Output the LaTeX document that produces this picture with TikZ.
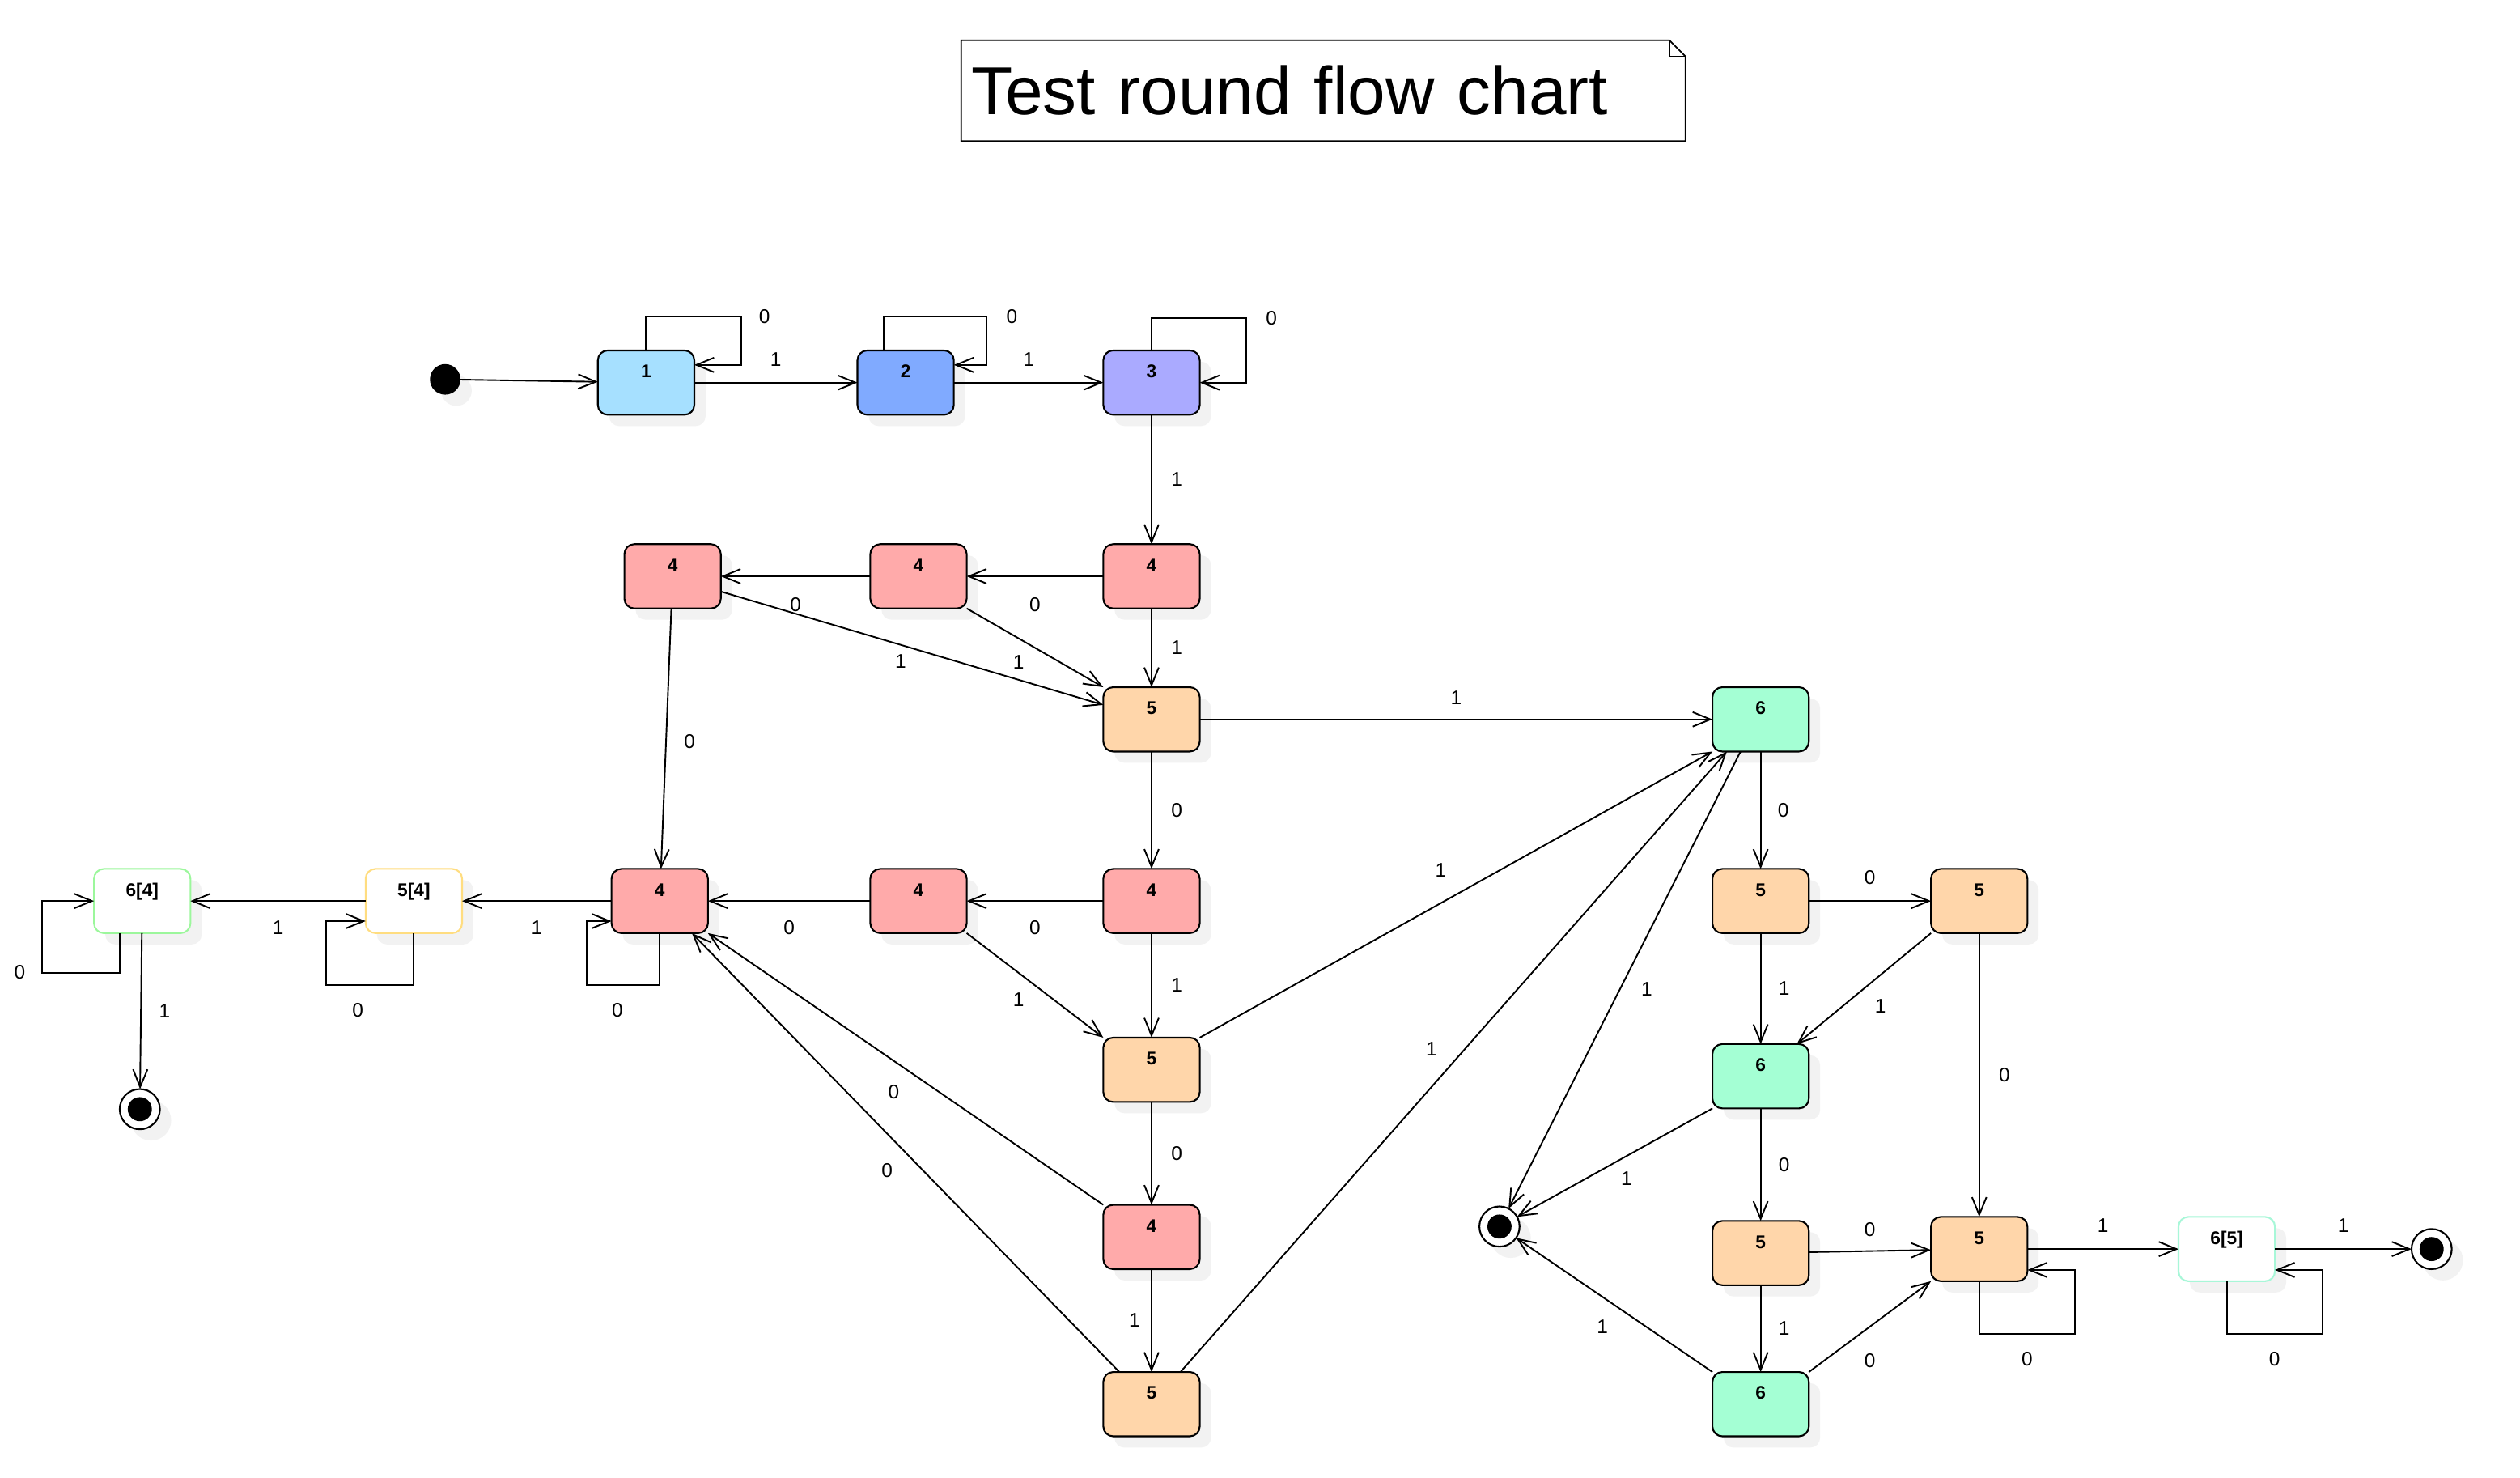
\documentclass[tikz,border=0pt]{standalone}
\usepackage{fontspec}
\setmainfont{Liberation Sans}
\usetikzlibrary{arrows.meta,positioning,shadows}
\definecolor{skyblue}{HTML}{A6E0FF}
\definecolor{cornflower}{HTML}{80AAFF}
\definecolor{periwinkle}{HTML}{AAAAFF}
\definecolor{salmonpink}{HTML}{FFAAAA}
\definecolor{peach}{HTML}{FFD6AA}
\definecolor{mint}{HTML}{A4FFD4}
\definecolor{limeedge}{HTML}{9CF79C}
\definecolor{goldedge}{HTML}{FFDD80}
\definecolor{aquaedge}{HTML}{A8F7D8}
\definecolor{shadowgray}{HTML}{F2F2F2}
\definecolor{ink}{HTML}{000000}

\begin{document}
\begin{tikzpicture}[
  >={Straight Barb[length=2.2mm,width=1.8mm]},
  shadowed/.style={drop shadow={shadow xshift=.14cm,shadow yshift=-.14cm,fill=shadowgray,opacity=1}},
  state/.style={draw=ink,rounded corners=3.5pt,line width=.6pt,minimum width=1.2cm,minimum height=.8cm,inner sep=0pt,
    outer sep=0pt,text height=.16cm,text depth=.28cm,font=\bfseries\fontsize{6.5}{7}\selectfont,shadowed},
  roundone/.style={state,fill=skyblue},
  roundtwo/.style={state,fill=cornflower},
  roundthree/.style={state,fill=periwinkle},
  roundfour/.style={state,fill=salmonpink},
  roundfive/.style={state,fill=peach},
  roundsix/.style={state,fill=mint},
  retry/.style={state,fill=white,draw=#1},
  startdot/.style={circle,fill=ink,minimum size=.38cm,inner sep=0pt,outer sep=0pt,shadowed},
  enddot/.style={circle,draw=ink,fill=white,line width=.6pt,minimum size=.5cm,inner sep=0pt,outer sep=0pt,shadowed,
    path picture={\fill[ink] (path picture bounding box.center) circle (.15cm);}},
  flow/.style={draw=ink,line width=.55pt,->},
  cond/.style={font=\fontsize{7}{8}\selectfont,inner sep=1pt},
  note/.style={draw=ink,line width=.5pt}
]
  \useasboundingbox (0,0) rectangle (31.36,-18.38);
  \fill[white] (0,0) rectangle (31.36,-18.38);

  % title note
  \node[anchor=north west,inner xsep=.12cm,inner ysep=0pt,text width=8.76cm,minimum height=1.24cm,align=left,
    font=\fontsize{24}{28}\selectfont] (title) at (11.96,-.5) {Test round flow chart};
  \draw[note] (title.north west) -- ([xshift=-2mm]title.north east) -- ([yshift=-2mm]title.north east)
    |- (title.south west) -- cycle;
  \draw[note] ([xshift=-2mm]title.north east) |- ([yshift=-2mm]title.north east);

  % rounds 1-3
  \node[roundone] (n1) at (8.04,-4.76) {1};
  \node[startdot,left=1.71cm of n1,yshift=.4mm] (start) {};
  \node[roundtwo,right=2.03cm of n1] (n2) {2};
  \node[roundthree,right=1.86cm of n2] (n3) {3};

  % rounds 4 and 5, middle column
  \node[roundfour,below=1.61cm of n3] (c4) {4};
  \node[roundfour,left=1.7cm of c4] (b4) {4};
  \node[roundfour,left=1.86cm of b4] (a4) {4};
  \node[roundfive,below=.98cm of c4] (d5) {5};
  \node[roundfour,below=1.46cm of d5] (j4) {4};
  \node[roundfour,left=1.7cm of j4] (i4) {4};
  \node[roundfour,left=2.02cm of i4] (h4) {4};
  \node[retry=goldedge,left=1.86cm of h4] (g54) {5[4]};
  \node[retry=limeedge,left=2.18cm of g54] (f64) {6[4]};
  \node[enddot,below=1.94cm of f64,xshift=-.3mm] (end1) {};
  \node[roundfive,below=1.3cm of j4] (m5) {5};
  \node[roundfour,below=1.28cm of m5] (o4) {4};
  \node[roundfive,below=1.28cm of o4] (s5) {5};

  % round 6, right part
  \node[roundsix,right=6.38cm of d5] (e6) {6};
  \node[roundfive,below=1.46cm of e6] (k5) {5};
  \node[roundfive,right=1.52cm of k5] (l5) {5};
  \node[roundsix,below=1.38cm of k5] (n6) {6};
  \node[roundfive,below=1.4cm of n6] (p5) {5};
  \node[roundsix,below=1.08cm of p5] (t6) {6};
  \node[roundfive,below=3.53cm of l5] (q5) {5};
  \node[retry=aquaedge,right=1.88cm of q5] (r65) {6[5]};
  \node[enddot,right=1.7cm of r65] (end3) {};
  \node[enddot,left=2.4cm of p5,yshift=3.3mm] (end2) {};

  % top row
  \draw[flow] (start) -- (n1);
  \draw[flow] (n1) -- node[cond,above=1.6mm]{1} (n2);
  \draw[flow] (n2) -- node[cond,above=1.6mm]{1} (n3);
  \draw[flow] (n1.north) |- ++(1.18,.42) node[cond,right=1.8mm]{0} |- ([yshift=.22cm]n1.east);
  \draw[flow] ([xshift=-.27cm]n2.north) |- ++(1.28,.42) node[cond,right=2mm]{0} |- ([yshift=.22cm]n2.east);
  \draw[flow] (n3.north) |- ++(1.18,.4) node[cond,right=2mm]{0} |- (n3.east);
  \draw[flow] (n3) -- node[cond,right=2mm]{1} (c4);

  % middle column
  \draw[flow] (c4) -- node[cond,below=2.2mm]{0} (b4);
  \draw[flow] (b4) -- node[cond,below=2.2mm]{0} (a4);
  \draw[flow] (c4) -- node[cond,right=2mm]{1} (d5);
  \draw[flow] (b4.south east) -- node[cond,pos=.38,below=1.7mm]{1} (d5.north west);
  \draw[flow] ([yshift=-.19cm]a4.east) -- node[cond,pos=.47,below=.8mm]{1} ([yshift=.18cm]d5.west);
  \draw[flow] (a4) -- node[cond,pos=.51,right=1.8mm]{0} (h4);
  \draw[flow] (d5) -- node[cond,above=1.4mm]{1} (e6);
  \draw[flow] (d5) -- node[cond,right=2mm]{0} (j4);
  \draw[flow] (j4) -- node[cond,below=2mm]{0} (i4);
  \draw[flow] (i4) -- node[cond,below=2mm]{0} (h4);
  \draw[flow] (h4) -- node[cond,below=2mm]{1} (g54);
  \draw[flow] (g54) -- node[cond,below=2mm]{1} (f64);
  \draw[flow] (h4.south) |- ++(-.91,-.65) node[cond,pos=.79,below=1.8mm]{0} |- ([yshift=-.25cm]h4.west);
  \draw[flow] (g54.south) |- ++(-1.09,-.65) node[cond,pos=.82,below=1.8mm]{0} |- ([yshift=-.25cm]g54.west);
  \draw[flow] ([xshift=-.28cm]f64.south) |- ++(-.97,-.49) node[cond,left=1.6mm]{0} |- (f64.west);
  \draw[flow] (f64) -- node[cond,right=1.8mm]{1} (end1);
  \draw[flow] (j4) -- node[cond,right=2mm]{1} (m5);
  \draw[flow] (i4.south east) -- node[cond,pos=.38,below=2mm]{1} (m5.north west);
  \draw[flow] (m5.north east) -- node[cond,pos=.47,above=2.8mm]{1} (e6.south west);
  \draw[flow] (m5) -- node[cond,right=2mm]{0} (o4);
  \draw[flow] (o4.north west) -- node[cond,pos=.53,below=2.6mm]{0} (h4.south east);
  \draw[flow] ([xshift=.2cm]s5.north west) -- node[cond,pos=.46,left=3.3mm]{0} ([xshift=-.2cm]h4.south east);
  \draw[flow] (o4) -- node[cond,left=1mm]{1} (s5);
  \draw[flow] ([xshift=-.24cm]s5.north east) -- node[cond,pos=.52,left=3mm]{1} ([xshift=.18cm]e6.south west);

  % right part
  \draw[flow] ([xshift=-.25cm]e6.south) -- node[cond,pos=.52,right=2.2mm]{1} (end2);
  \draw[flow] (e6) -- node[cond,right=1.7mm]{0} (k5);
  \draw[flow] (k5) -- node[cond,above=1.6mm]{0} (l5);
  \draw[flow] (k5) -- node[cond,right=1.8mm]{1} (n6);
  \draw[flow] (l5.south west) -- node[cond,below right=1.3mm]{1} ([xshift=-.15cm]n6.north east);
  \draw[flow] (l5) -- node[cond,right=2mm]{0} (q5);
  \draw[flow] (n6.south west) -- node[cond,pos=.44,below=1.5mm]{1} (end2);
  \draw[flow] (n6) -- node[cond,right=1.8mm]{0} (p5);
  \draw[flow] (p5) -- node[cond,above=1.4mm]{0} (q5);
  \draw[flow] (p5) -- node[cond,right=1.8mm]{1} (t6);
  \draw[flow] (t6.north east) -- node[cond,below=2.9mm]{0} (q5.south west);
  \draw[flow] (t6.north west) -- node[cond,pos=.56,below=2.4mm]{1} (end2);
  \draw[flow] (q5) -- node[cond,above=1.6mm]{1} (r65);
  \draw[flow] (q5.south) |- ++(1.19,-.66) node[cond,pos=.75,below=1.8mm]{0} |- ([yshift=-.26cm]q5.east);
  \draw[flow] (r65) -- node[cond,above=1.6mm]{1} (end3);
  \draw[flow] (r65.south) |- ++(1.19,-.66) node[cond,pos=.75,below=1.8mm]{0} |- ([yshift=-.26cm]r65.east);
\end{tikzpicture}
\end{document}
